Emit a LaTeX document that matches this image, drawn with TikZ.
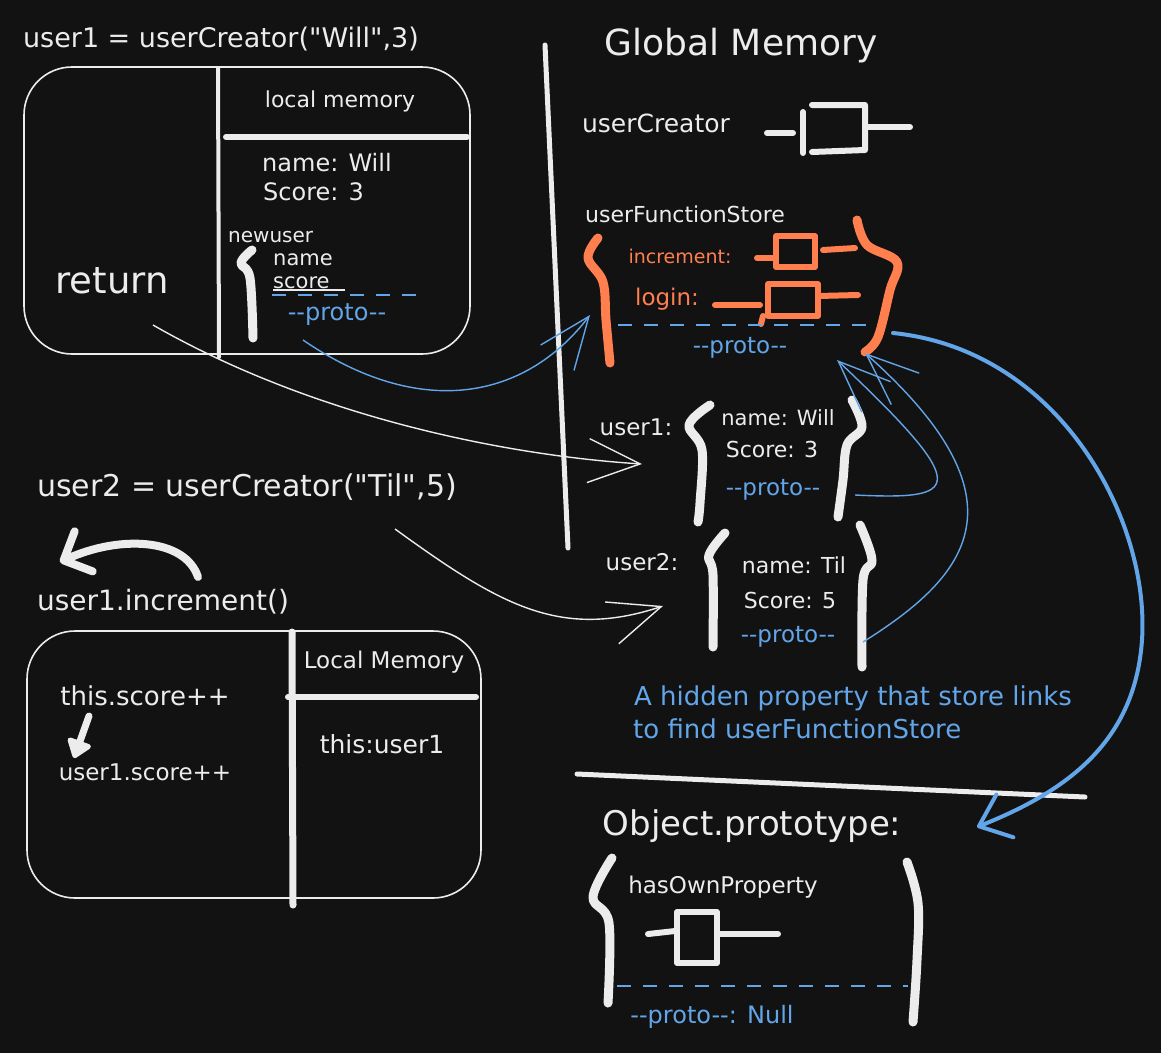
\documentclass[tikz,border=0pt]{standalone}
\usepackage{fontspec}
\setmainfont{DejaVu Sans}[Ligatures=TeXOff]
\usetikzlibrary{arrows.meta}
\definecolor{bg}{HTML}{121212}
\definecolor{wht}{HTML}{ECECEC}
\definecolor{org}{HTML}{FF7F4F}
\definecolor{blu}{HTML}{62A5E8}
\begin{document}
\begin{tikzpicture}[x=1pt,y=-1pt,
  txt/.style={text=wht, inner sep=0pt, anchor=base, font=\fontsize{#1}{#1}\selectfont},
  btxt/.style={txt=#1, text=blu},
  otxt/.style={txt=#1, text=org},
  thinline/.style={draw=wht, line width=1.6pt},
  heavy/.style={draw=wht, line width=5pt, line cap=round, line join=round},
  brace/.style={draw=wht, line width=9pt, line cap=round, line join=round},
  obrace/.style={brace, draw=org},
  fnline/.style={line width=6pt, line cap=round, line join=round},
  pdash/.style={draw=blu, line width=2.2pt, dash pattern=on 14pt off 12pt},
  warrow/.style={draw=wht, line width=1.4pt, -{Straight Barb[length=52pt,width=44pt]}},
  barrow/.style={draw=blu, line width=1.4pt, -{Straight Barb[length=52pt,width=42pt]}},
]
\fill[bg] (0,0) rectangle (1161,1053);
\useasboundingbox (0,0) rectangle (1161,1053);

% ---------- left top: user1 creation ----------
\node[txt=27] (t1) at (221,47) {user1 = userCreator("Will",3)};
\draw[thinline, rounded corners=48pt] (24,67) rectangle (470,354);
\draw[heavy, line width=4pt] (218,68) -- (219,357);
\draw[heavy, line width=6pt] (226,137) -- (467,137);
\node[txt=22] (lm1) at (340,107) {local memory};
\node[txt=24, anchor=base west] (nw) at (262,171) {name: Will};
\node[txt=24, anchor=base west] (sc3) at (263,200) {Score: 3};
\node[txt=20, anchor=base west] (nu) at (228,242) {newuser};
\draw[brace] plot[smooth, tension=0.6] coordinates {(252,250) (241,263) (250,278) (253,338)};
\node[txt=21, anchor=base west] (nname) at (273,265) {name};
\node[txt=21, anchor=base west] (nscore) at (273,288) {score};
\draw[wht, line width=1.5pt] (273,290) -- (345,290);
\draw[pdash] (272,295) -- (425,295);
\node[btxt=24] (p0) at (337,320) {--proto--};
\node[txt=37] (ret) at (112,293) {return};

% ---------- global memory ----------
\draw[heavy, line width=5pt] (545,45) -- (568,548);
\node[txt=36] (gm) at (741,55) {Global Memory};
\node[txt=25] (uc) at (656,132) {userCreator};
\draw[fnline, wht] (767,133) -- (793,133);
\draw[fnline, wht] (803,112) -- (803,153);
\draw[fnline, wht] (812,105) -- (865,105) -- (865,150) -- (812,152);
\draw[fnline, wht] (865,127) -- (910,127);

\node[txt=22] (ufs) at (685,222) {userFunctionStore};
\draw[obrace] plot[smooth, tension=0.6] coordinates {(598,238) (588,258) (603,282) (606,320) (610,363)};
\draw[obrace] plot[smooth, tension=0.6] coordinates {(857,220) (867,245) (897,262) (890,290) (878,337) (865,352)};
\node[otxt=19] (inc) at (680,263) {increment:};
\node[otxt=23] (login) at (667,305) {login:};
\draw[fnline, org] (757,258) -- (773,258);
\draw[fnline, org] (776,236) rectangle (815,267);
\draw[fnline, org] (823,250) -- (855,248);
\draw[fnline, org] (715,305) -- (760,305);
\draw[fnline, org] (768,284) rectangle (818,316);
\draw[fnline, org] (818,296) -- (858,295);
\draw[fnline, org] (763,316) -- (761,324);
\draw[pdash] (618,325) -- (878,325);
\node[btxt=23] (pg) at (740,353) {--proto--};

% user1 object
\node[txt=23] (u1) at (636,435) {user1:};
\draw[brace] plot[smooth, tension=0.6] coordinates {(710,405) (689,425) (702,450) (700,503) (698,522)};
\draw[brace] plot[smooth, tension=0.6] coordinates {(852,400) (862,427) (847,445) (843,480) (838,517)};
\node[txt=21] (u1n) at (778,425) {name: Will};
\node[txt=22] (u1s) at (772,457) {Score: 3};
\node[btxt=23] (u1p) at (773,495) {--proto--};

% user2 object
\node[txt=23] (u2) at (642,570) {user2:};
\draw[brace] plot[smooth, tension=0.6] coordinates {(725,533) (709,555) (713,575) (713,647)};
\draw[brace] plot[smooth, tension=0.6] coordinates {(860,525) (872,560) (863,580) (862,667)};
\node[txt=22] (u2n) at (794,573) {name: Til};
\node[txt=22] (u2s) at (790,608) {Score: 5};
\node[btxt=23] (u2p) at (788,642) {--proto--};

% note
\node[btxt=26, anchor=base west] (note1) at (634,705) {A hidden property that store links};
\node[btxt=26, anchor=base west] (note2) at (633,738) {to find userFunctionStore};

% divider
\draw[heavy, line width=5pt] (577,774) -- (1085,797);

% Object.prototype
\node[txt=34] (op) at (752,835) {Object.prototype:};
\draw[brace] plot[smooth, tension=0.6] coordinates {(612,858) (593,897) (609,923) (608,1003)};
\draw[brace] plot[smooth, tension=0.6] coordinates {(907,862) (918,903) (917,960) (913,1022)};
\node[txt=23] (hop) at (723,893) {hasOwnProperty};
\draw[fnline, wht] (648,934) -- (675,931);
\draw[fnline, wht] (677,912) rectangle (717,963);
\draw[fnline, wht] (717,934) -- (778,934);
\draw[pdash] (617,986) -- (908,986);
\node[btxt=24] (pnull) at (712,1023) {--proto--: Null};

% ---------- left bottom ----------
\node[txt=30] (t2) at (247,496) {user2 = userCreator("Til",5)};
\coordinate (ca) at (198,577);
\coordinate (cb) at (60,562);
\draw[wht, line width=8pt, line cap=round, -{Straight Barb[length=22pt,width=44pt,round]}] (ca) .. controls (185,538) and (120,535) .. (cb);
\node[txt=28] (inc2) at (163,610) {user1.increment()};
\draw[thinline, rounded corners=48pt] (27,631) rectangle (481,898);
\draw[heavy, line width=7pt] (292,632) -- (293,905);
\draw[heavy, line width=6pt] (288,697) -- (476,697);
\node[txt=23] (lm2) at (384,668) {Local Memory};
\node[txt=26] (ts) at (145,705) {this.score++};
\coordinate (da) at (89,716);
\coordinate (db) at (74,758);
\draw[wht, line width=7pt, line cap=round, -{Triangle[length=20pt,width=28pt,round]}] (da) -- (db);
\node[txt=23] (us) at (145,780) {user1.score++};
\node[txt=25] (tu) at (382,753) {this:user1};

% ---------- connectors ----------
\coordinate (w1s) at (153,325);
\coordinate (w1e) at (642,464);
\draw[warrow] (w1s) .. controls (310,415) and (500,455) .. (w1e);
\coordinate (w2s) at (395,529);
\coordinate (w2e) at (663,606);
\draw[warrow] (w2s) .. controls (500,605) and (560,640) .. (w2e);

\coordinate (b0s) at (303,340);
\coordinate (b0e) at (590,315);
\draw[barrow] (b0s) .. controls (420,420) and (525,400) .. (b0e);
\coordinate (b1s) at (855,495);
\coordinate (b1e) at (837,360);
\draw[barrow] (b1s) .. controls (960,500) and (975,490) .. (b1e);
\coordinate (b2s) at (863,642);
\coordinate (b2e) at (865,353);
\draw[barrow] (b2s) .. controls (970,575) and (1030,500) .. (b2e);

\coordinate (bbs) at (893,333);
\coordinate (bbm) at (1142,640);
\coordinate (bbe) at (977,827);
\draw[blu, line width=4pt, line cap=round, -{Straight Barb[length=28pt,width=46pt,round]}] (bbs) .. controls (1060,350) and (1150,520) .. (bbm) .. controls (1135,740) and (1070,790) .. (bbe);
\end{tikzpicture}
\end{document}
